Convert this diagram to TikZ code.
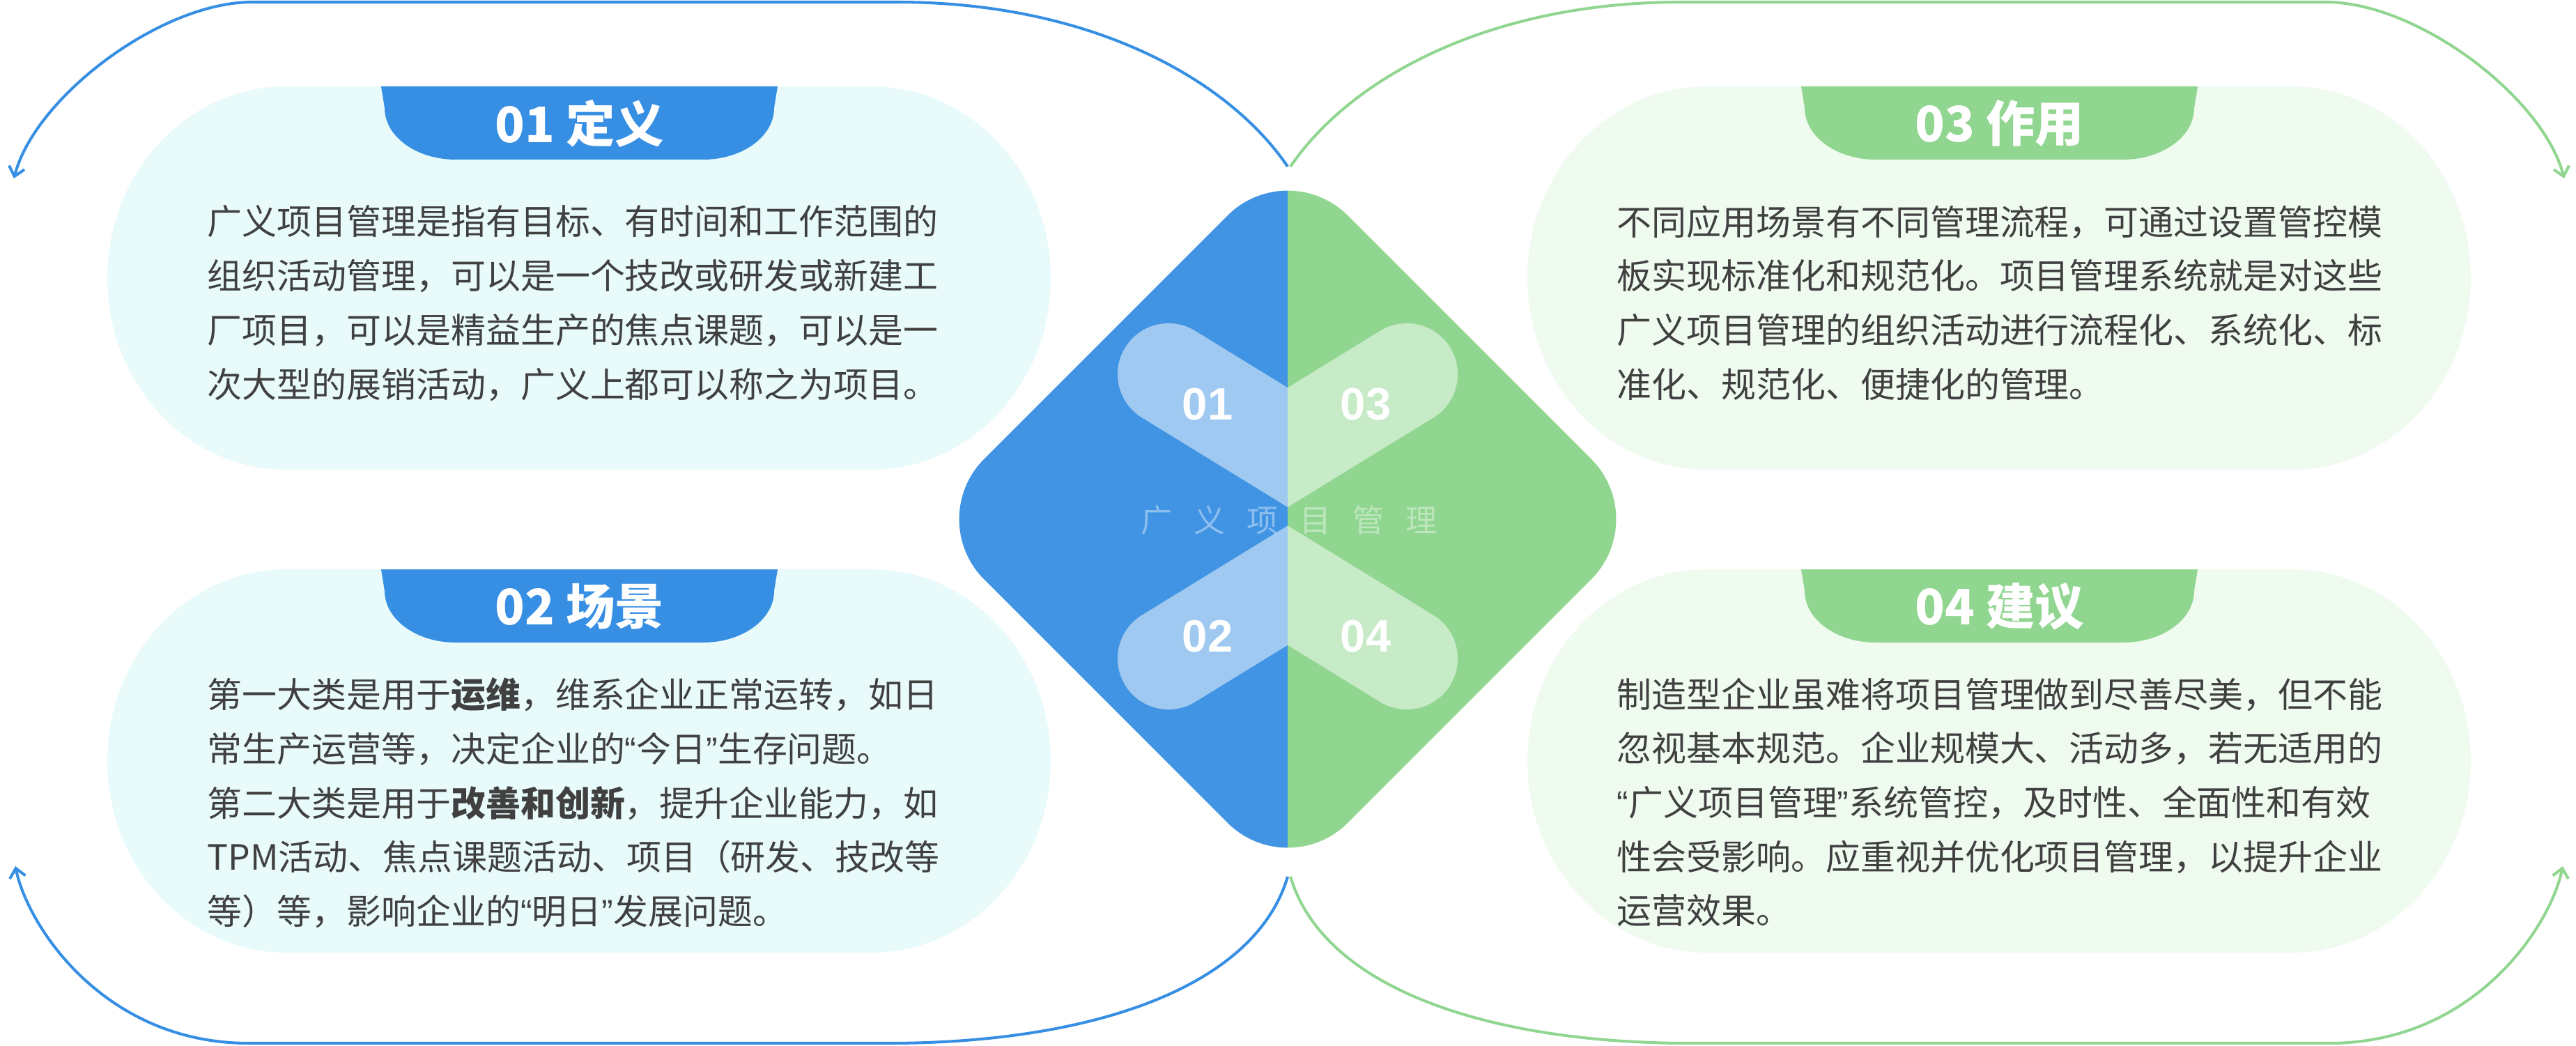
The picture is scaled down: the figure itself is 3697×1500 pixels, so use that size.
\documentclass[tikz,border=0pt]{standalone}
\usepackage{fontspec}
\setmainfont{Noto Sans CJK SC}
\newfontfamily\numfont{Liberation Sans}
\usetikzlibrary{arrows.meta}

\definecolor{blueA}{RGB}{55,143,228}
\definecolor{blueD}{RGB}{64,148,227}
\definecolor{greenA}{RGB}{144,214,144}
\definecolor{cyanP}{RGB}{232,250,250}
\definecolor{greenP}{RGB}{240,251,240}
\definecolor{textG}{RGB}{64,64,64}

\tikzset{
	bluearc/.style={draw=blueA, line width=1.15pt, -{Straight Barb[length=3.7pt,width=6.5pt]}},
	greenarc/.style={draw=greenA, line width=1.15pt, -{Straight Barb[length=3.7pt,width=6.5pt]}},
	title/.style={text=white, inner sep=0pt, font=\fontsize{20pt}{24pt}\selectfont\bfseries},
	body/.style={text=textG, inner sep=0pt, anchor=north west, align=left, font=\fontsize{14.2pt}{22.1pt}\selectfont},
	num/.style={text=white, inner sep=0pt, font=\numfont\fontsize{18.5pt}{22pt}\selectfont\bfseries},
	band/.style={draw=white, opacity=.5, line width=1.46cm, line cap=round, line join=miter}
}

\begin{document}
\begin{tikzpicture}[x=0.01cm, y=-0.01cm]
		\useasboundingbox (0,0) rectangle (3697,1500);

		% panels
		\fill[cyanP] (411,124) -- (1251,124) arc[start angle=270, end angle=450, x radius=257, y radius=275] -- (411,674) arc[start angle=90, end angle=270, x radius=257, y radius=275] -- cycle;
		\fill[blueA] (547,124) -- (552,155) arc[start angle=180, end angle=90, x radius=102, y radius=74] -- (1009,229) arc[start angle=90, end angle=0, x radius=102, y radius=74] -- (1116,124) -- cycle;
		\begin{scope}[shift={(0,693)}]
			\fill[cyanP] (411,124) -- (1251,124) arc[start angle=270, end angle=450, x radius=257, y radius=275] -- (411,674) arc[start angle=90, end angle=270, x radius=257, y radius=275] -- cycle;
			\fill[blueA] (547,124) -- (552,155) arc[start angle=180, end angle=90, x radius=102, y radius=74] -- (1009,229) arc[start angle=90, end angle=0, x radius=102, y radius=74] -- (1116,124) -- cycle;
		\end{scope}
		\begin{scope}[shift={(2038,0)}]
			\fill[greenP] (411,124) -- (1251,124) arc[start angle=270, end angle=450, x radius=257, y radius=275] -- (411,674) arc[start angle=90, end angle=270, x radius=257, y radius=275] -- cycle;
			\fill[greenA] (547,124) -- (552,155) arc[start angle=180, end angle=90, x radius=102, y radius=74] -- (1009,229) arc[start angle=90, end angle=0, x radius=102, y radius=74] -- (1116,124) -- cycle;
		\end{scope}
		\begin{scope}[shift={(2038,693)}]
			\fill[greenP] (411,124) -- (1251,124) arc[start angle=270, end angle=450, x radius=257, y radius=275] -- (411,674) arc[start angle=90, end angle=270, x radius=257, y radius=275] -- cycle;
			\fill[greenA] (547,124) -- (552,155) arc[start angle=180, end angle=90, x radius=102, y radius=74] -- (1009,229) arc[start angle=90, end angle=0, x radius=102, y radius=74] -- (1116,124) -- cycle;
		\end{scope}

		\node[title] (def) at (832,177)		{01 定义};
		\node[title] (scene) at (832,870)	{02 场景};
		\node[title] (role) at (2870,177)	{03 作用};
		\node[title] (advice) at (2870,870)	{04 建议};

		\node[body] (t1) at (297,294) {广义项目管理是指有目标、有时间和工作范围的\\组织活动管理，可以是一个技改或研发或新建工\\厂项目，可以是精益生产的焦点课题，可以是一\\次大型的展销活动，广义上都可以称之为项目。};
		\node[body] (t2) at (297,972) {第一大类是用于\textbf{运维}，维系企业正常运转，如日\\常生产运营等，决定企业的{\numfont “}今日{\numfont ”}生存问题。\\第二大类是用于\textbf{改善和创新}，提升企业能力，如\\TPM活动、焦点课题活动、项目（研发、技改等\\等）等，影响企业的{\numfont “}明日{\numfont ”}发展问题。};
		\node[body] (t3) at (2320,294) {不同应用场景有不同管理流程，可通过设置管控模\\板实现标准化和规范化。项目管理系统就是对这些\\广义项目管理的组织活动进行流程化、系统化、标\\准化、规范化、便捷化的管理。};
		\node[body] (t4) at (2320,972) {制造型企业虽难将项目管理做到尽善尽美，但不能\\忽视基本规范。企业规模大、活动多，若无适用的\\{\numfont “}广义项目管理{\numfont ”}系统管控，及时性、全面性和有效\\性会受影响。应重视并优化项目管理，以提升企业\\运营效果。};

		% diamond
		\begin{scope}
			\clip (1300,200) rectangle (1848,1300);
			\fill[blueD, rounded corners=1.22cm] (1848,223) -- (2370,745) -- (1848,1267) -- (1326,745) -- cycle;
		\end{scope}
		\begin{scope}
			\clip (1848,200) rectangle (2400,1300);
			\fill[greenA, rounded corners=1.22cm] (1848,223) -- (2370,745) -- (1848,1267) -- (1326,745) -- cycle;
		\end{scope}
		\draw[band] (1677,537) -- (1848,642) -- (2019,537);
		\draw[band] (1677,945) -- (1848,840) -- (2019,945);

		\node[num] (a) at (1733,580)		{01};
		\node[num] (c) at (1960,580)		{03};
		\node[num] (b) at (1733,913)		{02};
		\node[num] (d) at (1960,913)		{04};
		\node[text=white, text opacity=.4, inner sep=0pt, font=\fontsize{12.8pt}{14pt}\selectfont] (mid) at (1850,747) {广\hspace{0.31cm}义\hspace{0.31cm}项\hspace{0.31cm}目\hspace{0.31cm}管\hspace{0.31cm}理};

		% arcs
		\coordinate (tb) at (1848,239);
		\coordinate (tg) at (1852,239);
		\coordinate (bb) at (1848,1258);
		\coordinate (bg) at (1852,1258);
		\coordinate (tl) at (20,256);
		\coordinate (tr) at (3680,256);
		\coordinate (bl) at (22,1243);
		\coordinate (br) at (3678,1243);

		\draw[bluearc] (tb) .. controls (1760,110) and (1560,3) .. (1287,3) -- (362,3) .. controls (230,3) and (50,140) .. (tl);
		\draw[greenarc] (tg) .. controls (1940,110) and (2140,3) .. (2413,3) -- (3338,3) .. controls (3470,3) and (3650,140) .. (tr);
		\draw[bluearc] (bb) .. controls (1800,1420) and (1560,1497) .. (1275,1497) -- (357,1497) .. controls (150,1497) and (40,1330) .. (bl);
		\draw[greenarc] (bg) .. controls (1900,1420) and (2140,1497) .. (2425,1497) -- (3343,1497) .. controls (3550,1497) and (3660,1330) .. (br);
	\end{tikzpicture}
\end{document}
